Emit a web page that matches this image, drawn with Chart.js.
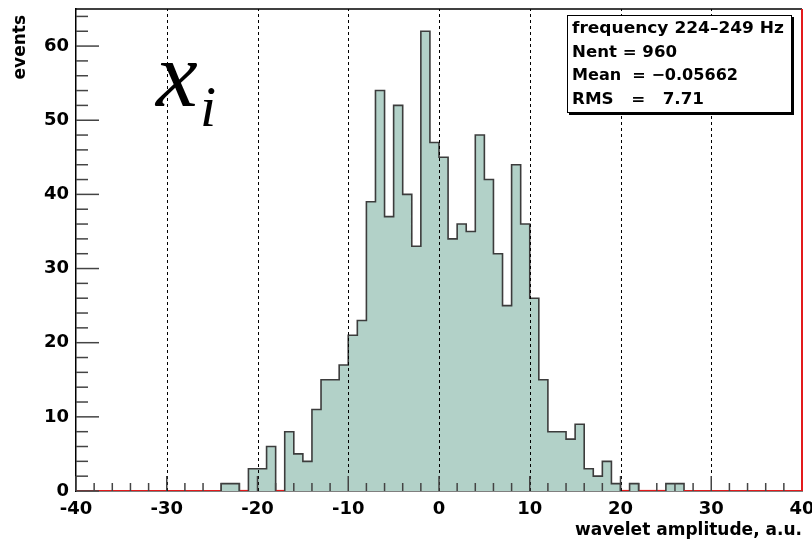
<!DOCTYPE html>
<html>
<head>
<meta charset="utf-8">
<script src="https://cdn.jsdelivr.net/npm/chart.js@4.4.1/dist/chart.umd.min.js"></script>
<style>
html, body { margin: 0; padding: 0; background: #fff; }
#wrap { width: 812px; height: 541px; }
</style>
</head>
<body>
<div id="wrap"><canvas id="histChart" width="812" height="541"></canvas></div>
<script>
// histogram: 80 bins of width 1, first bin starts at -40
const binLowEdge = -40;
const binWidth = 1;
const counts = [
  0, 0, 0, 0, 0, 0, 0, 0, 0, 0,        // -40 .. -31
  0, 0, 0, 0, 0, 0, 1, 1, 0, 3,        // -30 .. -21
  3, 6, 0, 8, 5, 4, 11, 15, 15, 17,    // -20 .. -11
  21, 23, 39, 54, 37, 52, 40, 33, 62, 47, // -10 .. -1
  45, 34, 36, 35, 48, 42, 32, 25, 44, 36, //   0 .. 9
  26, 15, 8, 8, 7, 9, 3, 2, 4, 1,      //  10 .. 19
  0, 1, 0, 0, 0, 1, 1, 0, 0, 0,        //  20 .. 29
  0, 0, 0, 0, 0, 0, 0, 0, 0, 0         //  30 .. 39
];
const xRange = [-40, 40];
const yRange = [0, 65];
const gridX = [-30, -20, -10, 0, 10, 20, 30];
const statsLines = ['frequency 224\u2013249 Hz', 'Nent = 960', 'Mean  = \u22120.05662', 'RMS   =   7.71'];
const varLabel = 'x';
const varIndex = 'i';

// step outline points built from the bins
const points = [];
counts.forEach((c, i) => {
    const lo = binLowEdge + i * binWidth;
    points.push({ x: lo, y: c }, { x: lo + binWidth, y: c });
});

const ink = '#3c3c3c';
const red = '#e31a1c';

const rootFrame = {
    id: 'rootFrame',
    afterDatasetsDraw(chart) {
        const ctx = chart.ctx;
        const a = chart.chartArea;
        const xs = chart.scales.x;
        const ys = chart.scales.y;
        ctx.save();

        // dashed vertical grid on top of the histogram
        ctx.strokeStyle = '#000';
        ctx.lineWidth = 1;
        ctx.setLineDash([3, 3]);
        gridX.forEach(v => {
            const px = Math.round(xs.getPixelForValue(v)) + 0.5;
            ctx.beginPath();
            ctx.moveTo(px, a.bottom);
            ctx.lineTo(px, a.top);
            ctx.stroke();
        });
        ctx.setLineDash([]);

        // ticks pointing inward
        ctx.strokeStyle = '#444';
        ctx.lineWidth = 1.5;
        for (let v = xRange[0]; v <= xRange[1]; v += 2) {
            const px = xs.getPixelForValue(v);
            const len = v % 10 === 0 ? 15 : 8;
            ctx.beginPath();
            ctx.moveTo(px, a.bottom);
            ctx.lineTo(px, a.bottom - len);
            ctx.stroke();
        }
        for (let v = 0; v <= yRange[1]; v += 2) {
            const py = ys.getPixelForValue(v);
            const len = v % 10 === 0 ? 23 : 12;
            ctx.beginPath();
            ctx.moveTo(a.left, py);
            ctx.lineTo(a.left + len, py);
            ctx.stroke();
        }

        // frame top and right
        ctx.lineWidth = 1.5;
        ctx.strokeStyle = '#000';
        ctx.beginPath();
        ctx.moveTo(a.left, a.top);
        ctx.lineTo(a.right, a.top);
        ctx.stroke();
        ctx.strokeStyle = red;
        ctx.lineWidth = 2;
        ctx.beginPath();
        ctx.moveTo(a.right, a.top);
        ctx.lineTo(a.right, a.bottom);
        ctx.stroke();

        // stats box
        const bx = 567, by = 15, bw = 224, bh = 97;
        ctx.fillStyle = '#000';
        ctx.fillRect(bx + 2, by + 2, bw + 1, bh + 1);
        ctx.fillStyle = '#fff';
        ctx.fillRect(bx, by, bw, bh);
        ctx.strokeStyle = '#000';
        ctx.lineWidth = 1;
        ctx.strokeRect(bx + 0.5, by + 0.5, bw, bh);
        ctx.fillStyle = '#000';
        ctx.font = 'bold 16px "DejaVu Sans"';
        ctx.textBaseline = 'alphabetic';
        ctx.textAlign = 'left';
        const widths = [212, 105, 166, 132];
        const bases = [33, 57, 80, 104];
        statsLines.forEach((s, i) => {
            const w = ctx.measureText(s).width;
            ctx.save();
            ctx.translate(572, bases[i]);
            ctx.scale(widths[i] / w, 1);
            ctx.fillText(s, 0, 0);
            ctx.restore();
        });

        // variable label
        ctx.font = 'italic 94px "Liberation Serif"';
        ctx.fillText(varLabel, 156, 106);
        ctx.font = 'italic 58px "Liberation Serif"';
        ctx.fillText(varIndex, 200, 126);

        ctx.restore();
    }
};

Chart.defaults.font.family = '"DejaVu Sans"';
Chart.defaults.color = '#000';

new Chart(document.getElementById('histChart').getContext('2d'), {
    type: 'line',
    data: {
        datasets: [{
            label: 'events',
            data: points,
            borderColor: ink,
            borderWidth: 1.6,
            backgroundColor: '#b2d1c8',
            fill: 'origin',
            pointRadius: 0,
            tension: 0,
            segment: {
                borderColor: c => (c.p0.parsed.y === 0 && c.p1.parsed.y === 0) ? red : ink,
                borderWidth: c => (c.p0.parsed.y === 0 && c.p1.parsed.y === 0) ? 2.2 : 1.6
            }
        }]
    },
    options: {
        responsive: false,
        animation: false,
        devicePixelRatio: 1,
        layout: { padding: { left: 0, right: 10, top: 9, bottom: 0 } },
        scales: {
            x: {
                type: 'linear',
                min: xRange[0],
                max: xRange[1],
                afterFit: s => { s.height = 50; s.paddingLeft = 0; s.paddingRight = 0; },
                ticks: {
                    stepSize: 10,
                    padding: 8,
                    maxRotation: 0,
                    font: { size: 18, weight: 'bold' }
                },
                grid: { display: false, drawTicks: false },
                border: { display: true, color: '#000', width: 1.5 },
                title: {
                    display: true,
                    text: 'wavelet amplitude, a.u.',
                    align: 'end',
                    font: { size: 17, weight: 'bold' },
                    padding: { top: 0, bottom: 0 }
                }
            },
            y: {
                type: 'linear',
                min: yRange[0],
                max: yRange[1],
                afterFit: s => { s.width = 76; s.paddingTop = 0; s.paddingBottom = 0; },
                ticks: {
                    stepSize: 10,
                    padding: 7,
                    font: { size: 18, weight: 'bold' },
                    callback: v => (v % 10 === 0 ? v : null)
                },
                grid: { display: false, drawTicks: false },
                border: { display: true, color: '#000', width: 1.5 },
                title: {
                    display: true,
                    text: 'events ',
                    align: 'end',
                    font: { size: 17, weight: 'bold' },
                    padding: { top: 10, bottom: 0 }
                }
            }
        },
        plugins: {
            legend: { display: false },
            tooltip: { enabled: false }
        }
    },
    plugins: [rootFrame]
});
</script>
</body>
</html>
